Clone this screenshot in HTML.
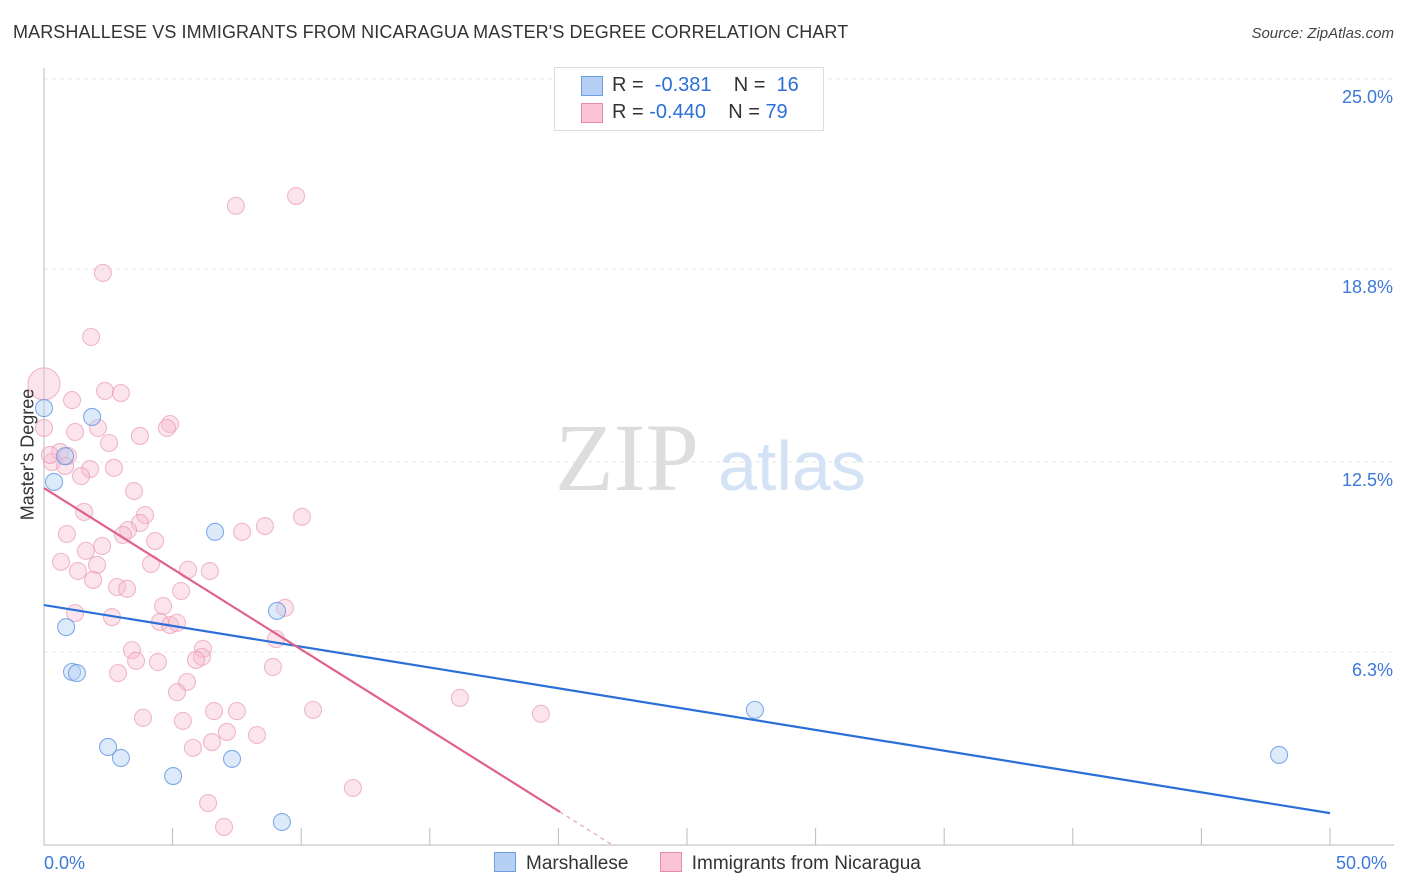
<!DOCTYPE html>
<html><head><meta charset="utf-8"><style>
body{margin:0;background:#fff;font-family:"Liberation Sans",sans-serif;}
#wrap{position:relative;width:1406px;height:892px;overflow:hidden;}
</style></head><body>
<div id="wrap">
<div style="position:absolute;left:13px;top:22px;font-size:18px;color:#333;letter-spacing:0.1px">MARSHALLESE VS IMMIGRANTS FROM NICARAGUA MASTER'S DEGREE CORRELATION CHART</div>
<div style="position:absolute;right:12px;top:25px;font-size:15px;color:#444;font-style:italic">Source: ZipAtlas.com</div>
<svg id="svg" width="1406" height="892" style="position:absolute;left:0;top:0"></svg>
</div>
<script>
const blueX=[0,1.87,0.82,0.39,6.65,0.86,9.06,1.09,1.28,2.49,2.99,5.02,7.31,9.25,27.64,48.02];
const blueY=[14.26,13.97,12.69,11.85,10.22,7.11,7.64,5.65,5.61,3.20,2.84,2.25,2.81,0.75,4.41,2.94];
const pinkX=[9.80,7.46,2.29,1.83,0,2.37,2.99,1.09,0,2.10,1.21,4.90,4.78,3.73,2.53,0.62,0.93,0.31,0.82,1.79,2.72,1.44,3.50,1.56,3.93,10.03,3.73,3.27,8.59,7.70,3.07,0.89,4.32,2.26,1.63,0.66,4.16,2.06,1.32,6.45,5.60,1.91,2.84,3.23,5.33,4.63,9.37,1.21,2.64,4.51,4.90,5.17,9.02,6.18,3.42,6.14,3.58,4.43,5.91,8.90,2.88,5.56,5.17,16.17,6.61,7.50,10.46,19.32,3.85,5.40,7.11,8.28,6.53,5.79,12.01,6.38,7.00,0.23];
const pinkY=[21.18,20.86,18.67,16.58,15.05,14.82,14.75,14.52,13.61,13.61,13.48,13.74,13.61,13.35,13.12,12.83,12.70,12.50,12.37,12.27,12.31,12.04,11.55,10.87,10.77,10.71,10.51,10.28,10.41,10.22,10.12,10.15,9.92,9.76,9.60,9.24,9.17,9.14,8.94,8.94,8.98,8.65,8.42,8.36,8.29,7.80,7.74,7.57,7.44,7.28,7.18,7.25,6.72,6.40,6.36,6.14,6.01,5.97,6.04,5.81,5.61,5.32,4.99,4.80,4.37,4.37,4.41,4.28,4.15,4.05,3.69,3.59,3.36,3.17,1.86,1.37,0.59,12.73];
const yTicks=[6.3,12.5,18.8,25.0];
const yTickLabels=["6.3%","12.5%","18.8%","25.0%"];
const blueLine=[[0,7.83],[50,1.04]];
const pinkLine=[[0,11.65],[20.06,1.08]];
const pinkDash=[[20.06,1.08],[22.1,0]];
const X=v=>44+v/50*1286, Y=v=>845-v*30.64;
const NS="http://www.w3.org/2000/svg", svg=document.getElementById('svg');
function mk(t,a,p){const e=document.createElementNS(NS,t);for(const k in a)e.setAttribute(k,a[k]);(p||svg).appendChild(e);return e;}
yTicks.forEach((t,i)=>{
 const g=mk('line',{x1:44,x2:1394,y1:Y(t),y2:Y(t),stroke:'#e6e6e6','stroke-dasharray':'4,4'});
 
 
 const tx=mk('text',{x:1393,y:Y(t)+24,'text-anchor':'end','font-size':18,fill:'#3b78d8','font-family':'Liberation Sans'});
 tx.textContent=yTickLabels[i];
 
 
});
const ax=mk('line',{x1:44,x2:44,y1:68,y2:845,stroke:'#bbb'});

const bx=mk('line',{x1:44,x2:1394,y1:845,y2:845,stroke:'#bbb'});

for(let i=1;i<=10;i++){const t=mk('line',{x1:X(i*5),x2:X(i*5),y1:828,y2:845,stroke:'#bbb'});
 }
const w=mk('text',{x:555,y:490,'font-size':96,fill:'#ddd','font-family':'Liberation Serif'});w.textContent='ZIP';

const w2=mk('text',{x:718,y:490,'font-size':70,fill:'#d4e2f5','font-family':'Liberation Sans'});w2.textContent='atlas';

pinkX.forEach((v,i)=>{const c=mk('circle',{cx:X(v),cy:Y(pinkY[i]),r:(i==4?16:8.5),fill:'rgba(248,185,205,0.38)',stroke:'rgba(232,150,178,0.65)','stroke-width':1.1});
 });
blueX.forEach((v,i)=>{const c=mk('circle',{cx:X(v),cy:Y(blueY[i]),r:8.5,fill:'rgba(180,208,243,0.45)',stroke:'rgba(90,145,225,0.75)','stroke-width':1.1});
 });
const bl=mk('line',{x1:X(blueLine[0][0]),y1:Y(blueLine[0][1]),x2:X(blueLine[1][0]),y2:Y(blueLine[1][1]),stroke:'#2a6fd8','stroke-width':2.2});

const pl=mk('line',{x1:X(pinkLine[0][0]),y1:Y(pinkLine[0][1]),x2:X(pinkLine[1][0]),y2:Y(pinkLine[1][1]),stroke:'#e0608e','stroke-width':2.2});

const pd=mk('line',{x1:X(pinkDash[0][0]),y1:Y(pinkDash[0][1]),x2:X(pinkDash[1][0]),y2:Y(pinkDash[1][1]),stroke:'#e8a0b8','stroke-width':1.2,'stroke-dasharray':'4,4'});

</script>
<div style="position:absolute;left:-52px;top:444px;width:160px;text-align:center;transform:rotate(-90deg);font-size:18px;color:#333;white-space:nowrap">Master's Degree</div>
<div style="position:absolute;left:44px;top:853px;font-size:18px;color:#3b78d8">0.0%</div>
<div style="position:absolute;left:1336px;top:853px;font-size:18px;color:#3b78d8">50.0%</div>
<div style="position:absolute;left:554px;top:67px;width:268px;height:62px;border:1px solid #ddd;background:#fff;font-size:20px;color:#333">
 <div style="position:absolute;left:26px;top:8px;width:20px;height:18px;background:#b5cff5;border:1px solid #6d9ee0"></div>
 <div style="position:absolute;left:57px;top:6px">R = &nbsp;<span style="color:#2a6fd8">-0.381</span>&nbsp;&nbsp;&nbsp; N = &nbsp;<span style="color:#2a6fd8">16</span></div>
 <div style="position:absolute;left:26px;top:35px;width:20px;height:18px;background:#f9c3d4;border:1px solid #e88aa8"></div>
 <div style="position:absolute;left:57px;top:33px">R = <span style="color:#2a6fd8">-0.440</span>&nbsp;&nbsp;&nbsp; N = <span style="color:#2a6fd8">79</span></div>
</div>
<div style="position:absolute;left:494px;top:852px;font-size:19px;color:#333;white-space:nowrap">
 <span><span style="display:inline-block;width:20px;height:18px;background:#b5cff5;border:1px solid #6d9ee0;vertical-align:-3px;margin-right:10px"></span>Marshallese</span>
 <span style="margin-left:26px"><span style="display:inline-block;width:20px;height:18px;background:#f9c3d4;border:1px solid #e88aa8;vertical-align:-3px;margin-right:10px"></span>Immigrants from Nicaragua</span>
</div>
</body></html>
